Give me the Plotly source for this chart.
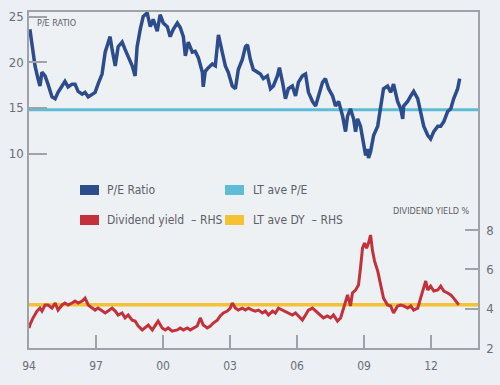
import plotly.graph_objects as go

# ---------------- data ----------------
pe_years = [1994.04, 1994.27, 1994.40, 1994.49, 1994.58, 1994.72, 1994.85, 1995.03, 1995.17, 1995.30,
            1995.48, 1995.61, 1995.75, 1995.93, 1996.06, 1996.20, 1996.38, 1996.51, 1996.65, 1996.83,
            1996.96, 1997.09, 1997.27, 1997.41, 1997.54, 1997.63, 1997.72, 1997.86, 1997.99, 1998.17,
            1998.30, 1998.44, 1998.62, 1998.75, 1998.84, 1998.98, 1999.11, 1999.29, 1999.43, 1999.56,
            1999.74, 1999.87, 2000.01, 2000.19, 2000.32, 2000.46, 2000.64, 2000.77, 2000.91, 2001.00,
            2001.13, 2001.31, 2001.44, 2001.58, 2001.76, 2001.80, 2001.89, 2002.03, 2002.21, 2002.34,
            2002.48, 2002.65, 2002.79, 2002.92, 2003.10, 2003.24, 2003.37, 2003.55, 2003.69, 2003.78,
            2003.91, 2004.04, 2004.22, 2004.36, 2004.49, 2004.67, 2004.81, 2004.94, 2005.12, 2005.21,
            2005.35, 2005.48, 2005.61, 2005.79, 2005.93, 2006.06, 2006.24, 2006.38, 2006.51, 2006.69,
            2006.83, 2006.96, 2007.14, 2007.27, 2007.41, 2007.59, 2007.72, 2007.86, 2008.04, 2008.17,
            2008.26, 2008.39, 2008.53, 2008.62, 2008.71, 2008.84, 2008.98, 2009.07, 2009.16, 2009.20,
            2009.29, 2009.43, 2009.61, 2009.74, 2009.87, 2010.05, 2010.19, 2010.32, 2010.41, 2010.50,
            2010.64, 2010.73, 2010.77, 2010.95, 2011.09, 2011.22, 2011.40, 2011.53, 2011.67, 2011.85,
            2011.98, 2012.12, 2012.30, 2012.43, 2012.57, 2012.74, 2012.88, 2013.01, 2013.19, 2013.28]
pe_ratio = [23.6, 19.6, 18.2, 17.4, 18.9, 18.5, 17.6, 16.2, 16.0, 16.7,
            17.4, 17.9, 17.3, 17.6, 17.6, 16.8, 16.5, 16.7, 16.2, 16.5,
            16.7, 17.6, 18.7, 21.1, 22.3, 22.8, 21.4, 19.6, 21.7, 22.2,
            21.4, 20.7, 19.6, 18.5, 21.7, 23.6, 25.0, 25.4, 23.9, 24.7,
            23.4, 25.2, 24.3, 23.9, 22.8, 23.6, 24.3, 23.8, 22.8, 20.7,
            22.2, 21.1, 21.2, 20.5, 18.9, 17.3, 19.0, 19.4, 19.8, 19.6,
            23.0, 21.1, 19.6, 18.9, 17.4, 17.1, 19.2, 20.3, 21.7, 21.9,
            20.3, 19.2, 18.9, 18.7, 18.2, 18.5, 17.1, 17.4, 18.5, 19.4,
            17.8, 16.0, 17.1, 17.4, 16.3, 17.8, 18.5, 18.7, 16.7, 15.7,
            15.2, 16.3, 17.8, 18.2, 17.1, 16.3, 15.2, 15.7, 14.1, 12.4,
            14.1, 14.9, 13.8, 12.4, 13.8, 13.0, 10.9, 9.8, 10.5, 9.5,
            10.2, 12.0, 13.0, 15.2, 17.1, 17.4, 16.7, 17.6, 16.7, 15.7,
            14.9, 13.8, 15.2, 15.7, 16.3, 16.8, 16.0, 14.6, 13.0, 12.0,
            11.6, 12.4, 13.0, 13.0, 13.5, 14.6, 14.9, 16.0, 17.1, 18.2]

dy_years = [1994.00, 1994.04, 1994.18, 1994.36, 1994.49, 1994.58, 1994.72, 1994.85, 1995.03, 1995.17,
            1995.30, 1995.48, 1995.61, 1995.75, 1995.93, 1996.06, 1996.20, 1996.38, 1996.51, 1996.65,
            1996.83, 1996.96, 1997.09, 1997.27, 1997.41, 1997.54, 1997.72, 1997.86, 1997.99, 1998.17,
            1998.30, 1998.44, 1998.62, 1998.75, 1998.89, 1999.07, 1999.20, 1999.34, 1999.52, 1999.65,
            1999.78, 1999.96, 2000.10, 2000.23, 2000.41, 2000.64, 2000.77, 2000.91, 2001.09, 2001.22,
            2001.35, 2001.53, 2001.67, 2001.80, 2001.98, 2002.12, 2002.25, 2002.43, 2002.56, 2002.70,
            2002.88, 2003.01, 2003.10, 2003.24, 2003.37, 2003.55, 2003.69, 2003.82, 2004.00, 2004.13,
            2004.27, 2004.45, 2004.58, 2004.72, 2004.90, 2005.03, 2005.17, 2005.35, 2005.48, 2005.61,
            2005.79, 2005.93, 2006.06, 2006.24, 2006.38, 2006.51, 2006.69, 2006.83, 2006.96, 2007.05,
            2007.18, 2007.36, 2007.50, 2007.63, 2007.81, 2007.95, 2008.08, 2008.17, 2008.26, 2008.39,
            2008.48, 2008.62, 2008.75, 2008.84, 2008.93, 2009.02, 2009.11, 2009.20, 2009.29, 2009.38,
            2009.47, 2009.61, 2009.74, 2009.87, 2010.05, 2010.19, 2010.32, 2010.50, 2010.64, 2010.77,
            2010.95, 2011.09, 2011.22, 2011.40, 2011.53, 2011.67, 2011.76, 2011.85, 2011.98, 2012.12,
            2012.30, 2012.43, 2012.57, 2012.74, 2012.88, 2013.01, 2013.15, 2013.24]
dividend_yield = [3.02, 3.17, 3.53, 3.88, 4.03, 3.88, 4.19, 4.19, 4.03, 4.29,
                  3.93, 4.19, 4.29, 4.19, 4.29, 4.39, 4.29, 4.39, 4.54, 4.19,
                  4.03, 3.93, 4.03, 3.88, 3.78, 3.88, 4.03, 3.88, 3.68, 3.78,
                  3.53, 3.68, 3.42, 3.37, 3.12, 2.92, 3.02, 3.17, 2.92, 3.12,
                  3.37, 3.02, 2.92, 3.02, 2.86, 2.92, 3.02, 2.92, 3.02, 2.92,
                  3.02, 3.12, 3.53, 3.17, 3.02, 3.12, 3.27, 3.42, 3.63, 3.78,
                  3.88, 4.03, 4.29, 4.03, 3.93, 4.03, 3.93, 4.03, 3.93, 3.88,
                  3.93, 3.78, 3.88, 3.68, 3.88, 3.78, 4.03, 3.93, 3.88, 3.78,
                  3.68, 3.78, 3.63, 3.42, 3.68, 3.93, 4.03, 3.88, 3.78, 3.68,
                  3.53, 3.63, 3.53, 3.68, 3.37, 3.53, 4.03, 4.44, 4.70, 4.14,
                  4.80, 4.95, 5.20, 6.07, 7.08, 7.34, 7.08, 7.34, 7.75, 6.93,
                  6.42, 5.92, 5.20, 4.54, 4.19, 4.14, 3.78, 4.14, 4.19, 4.14,
                  4.03, 4.14, 3.93, 4.03, 4.54, 5.05, 5.41, 4.95, 5.15, 4.90,
                  4.95, 5.15, 4.90, 4.80, 4.70, 4.54, 4.29, 4.19]

lt_ave_pe = 14.8
lt_ave_dy = 4.2

x_range = [1994.0, 2014.1]
x_tickvals = [1994, 1997, 2000, 2003, 2006, 2009, 2012]
x_ticktext = ["94", "97", "00", "03", "06", "09", "12"]
pe_ticks = [10, 15, 20, 25]
dy_ticks = [2, 4, 6, 8]

series_names = ["P/E Ratio", "Dividend yield  – RHS", "LT ave P/E", "LT ave DY  – RHS"]

# ---------------- styles ----------------
C_PE = "#2d4c8c"
C_DY = "#c3323a"
C_LTPE = "#5fbcd6"
C_LTDY = "#f4c232"
FONT = "Liberation Sans Narrow, DejaVu Sans Condensed, Roboto, sans-serif"
GREY = "#6a6e76"
AXIS = "#9ea3aa"

W, H = 500, 385
L, R, T, B = 29, 22, 12, 37
PW, PH = W - L - R, H - T - B


def px(x):
    return (x - L) / PW


def py(y):
    return (H - B - y) / PH


fig = go.Figure()

fig.add_trace(go.Scatter(x=x_range, y=[lt_ave_pe, lt_ave_pe], mode="lines",
                         line=dict(color=C_LTPE, width=3), name=series_names[2], yaxis="y"))
fig.add_trace(go.Scatter(x=x_range, y=[lt_ave_dy, lt_ave_dy], mode="lines",
                         line=dict(color=C_LTDY, width=3.5), name=series_names[3], yaxis="y2"))
fig.add_trace(go.Scatter(x=pe_years, y=pe_ratio, mode="lines",
                         line=dict(color=C_PE, width=3.5), name=series_names[0], yaxis="y"))
fig.add_trace(go.Scatter(x=dy_years, y=dividend_yield, mode="lines",
                         line=dict(color=C_DY, width=3), name=series_names[1], yaxis="y2"))

fig.update_layout(
    width=W, height=H,
    margin=dict(l=L, r=R, t=T, b=B, autoexpand=False),
    paper_bgcolor="#eceff3",
    plot_bgcolor="#eef1f4",
    showlegend=False,
    font=dict(family=FONT, color=GREY, size=13),
    xaxis=dict(range=x_range, tickvals=x_tickvals, ticktext=x_ticktext, automargin=False,
               ticklabelstandoff=6,
               showgrid=False, zeroline=False, showline=True, mirror=True,
               linecolor=AXIS, linewidth=1.5, ticks="inside", ticklen=13,
               tickcolor=AXIS, tickwidth=1.5, tickfont=dict(size=12, color=GREY)),
    yaxis=dict(range=[-11.3, 25.5], tickvals=pe_ticks, showgrid=False, zeroline=False,
               automargin=False, ticklabelstandoff=1,
               showline=True, linecolor=AXIS, linewidth=1.5, ticks="inside", ticklen=18,
               tickcolor=AXIS, tickwidth=1.5, tickfont=dict(size=13, color=GREY)),
    yaxis2=dict(range=[2.0, 19.1], tickvals=dy_ticks, overlaying="y", side="right",
                automargin=False, ticklabelstandoff=4,
                showgrid=False, zeroline=False, showline=True, linecolor=AXIS, linewidth=1.5,
                ticks="inside", ticklen=13, tickcolor=AXIS, tickwidth=1.5,
                tickfont=dict(size=13, color=GREY)),
)

# legend swatches and labels
sw = [(80, 185, C_PE), (80, 215, C_DY), (225, 185, C_LTPE), (225, 215, C_LTDY)]
for (sx, sy, col) in sw:
    fig.add_shape(type="rect", xref="paper", yref="paper",
                  x0=px(sx), x1=px(sx + 19), y0=py(sy + 10), y1=py(sy),
                  fillcolor=col, line=dict(width=0))
labels_pos = [(105, 190), (105, 220), (251, 190), (251, 220)]
for name, (lx, ly) in zip(series_names, labels_pos):
    fig.add_annotation(text=name, xref="paper", yref="paper", x=px(lx), y=py(ly),
                       xanchor="left", yanchor="middle", showarrow=False,
                       font=dict(size=12, color="#5c6068"))

fig.add_annotation(text="P/E RATIO", xref="paper", yref="paper", x=px(35), y=py(23),
                   xanchor="left", yanchor="middle", showarrow=False,
                   font=dict(size=9, color="#5c6068"))
fig.add_annotation(text="DIVIDEND YIELD %", xref="paper", yref="paper", x=px(472), y=py(211),
                   xanchor="right", yanchor="middle", showarrow=False,
                   font=dict(size=9, color="#5c6068"))

fig.write_html("out.html",
               config={"displayModeBar": False},
               post_script="document.body.style.margin='0';document.body.style.background='#eceff3';")
